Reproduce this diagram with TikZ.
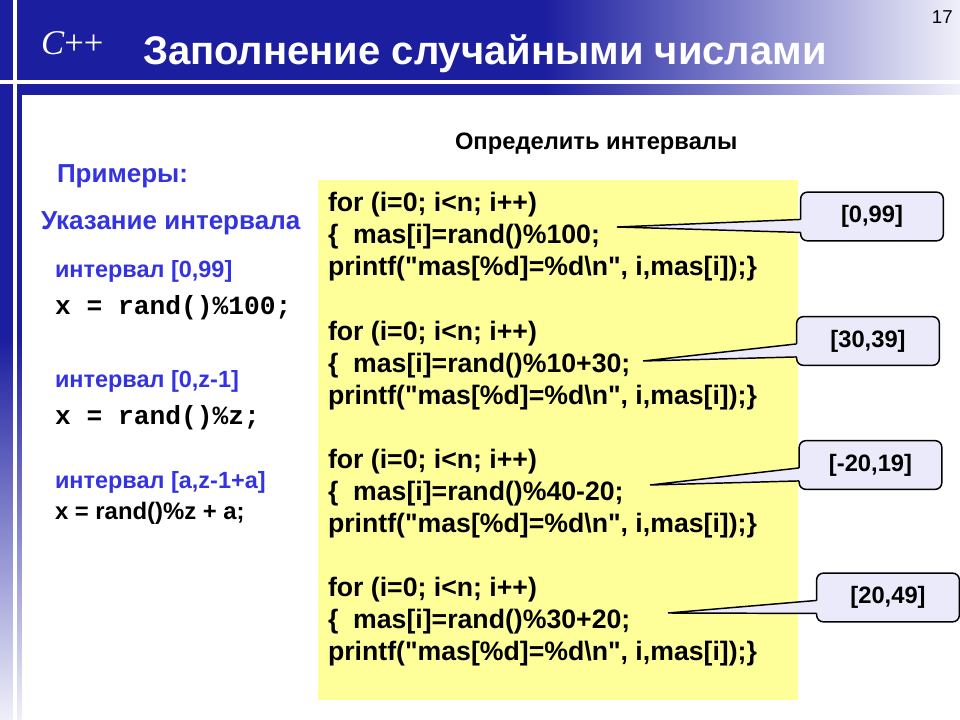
\documentclass[tikz,border=0pt]{standalone}
\usepackage{fontspec}
\setmainfont{Liberation Sans}
\newfontfamily\serifC{Liberation Serif}
\newfontfamily\monoC{Liberation Mono}
\usetikzlibrary{calc}
\font\qfontb="Liberation Sans/B" at 20pt
\newcommand\qmarkstr{{\qfontb"}}
\definecolor{hdrblue}{RGB}{28,30,160}
\definecolor{txtblue}{RGB}{51,51,225}
\definecolor{codeyel}{RGB}{255,255,153}
\definecolor{callfill}{RGB}{234,234,250}
\definecolor{fadeblue}{RGB}{240,240,250}
\begin{document}
\begin{tikzpicture}[x=0.75pt,y=-0.75pt,
  lbl/.style={anchor=base west, inner sep=0pt, outer sep=0pt},
  bluebig/.style={lbl, text=txtblue, font=\bfseries\fontsize{19.5}{22}\selectfont},
  bluesmall/.style={lbl, text=txtblue, font=\bfseries\fontsize{17.6}{20}\selectfont},
  monoline/.style={lbl, font=\monoC\bfseries\fontsize{19.7}{22}\selectfont},
  codeline/.style={lbl, font=\bfseries\fontsize{20}{24}\selectfont},
  callbox/.style={draw=black, line width=1.1pt, fill=callfill, rounded corners=5pt,
    minimum width=107pt, minimum height=36.5pt, inner sep=0pt,
    font=\bfseries\fontsize{17.8}{20}\selectfont},
  ptr/.style={draw=black, line width=1.1pt, line join=miter}]
\useasboundingbox (0,0) rectangle (960,720);
\fill[white] (0,0) rectangle (960,720);
% header band
\fill[hdrblue] (0,0) rectangle (545,95);
\shade[left color=hdrblue, right color=fadeblue] (544,0) rectangle (960,95);
% left band
\fill[hdrblue] (0,95) rectangle (22,340);
\shade[top color=hdrblue, bottom color=fadeblue] (0,339) rectangle (22,720);
% white rules
\fill[white] (0,80) rectangle (960,84);
\fill[white] (13,0) rectangle (17,720);
% content area
\fill[white] (22,95) rectangle (960,720);
% title
\node[lbl, text=white, font=\serifC\fontsize{26}{28}\selectfont] (logo) at (41,55) {\textit{C}++};
\node[lbl, text=white, font=\bfseries\fontsize{30}{36}\selectfont] (title) at (143,65) {Заполнение случайными числами};
\node[anchor=base east, inner sep=0pt, font=\fontsize{14}{16}\selectfont] (num) at (953,24) {17};
% headings
\node[lbl, font=\bfseries\fontsize{17.8}{20}\selectfont] (hint) at (455,150) {Определить интервалы};
\node[bluebig] (ex) at (57,183) {Примеры:};
\node[bluebig] (ui) at (41,230) {Указание интервала};
\node[bluesmall] (i1) at (55,277) {интервал [0,99]};
\node[monoline] (x1) at (55,315) {x = rand()\%100;};
\node[bluesmall] (i2) at (55,387) {интервал [0,z-1]};
\node[monoline] (x2) at (55,424) {x = rand()\%z;};
\node[bluesmall] (i3) at (55,488) {интервал [a,z-1+a]};
\node[lbl, font=\bfseries\fontsize{17.9}{20}\selectfont] (x3) at (55,519) {x = rand()\%z + a;};
% code box
\node[fill=codeyel, inner sep=0pt, minimum width=360pt, minimum height=390pt, anchor=north west] (code) at (318,180) {};
\node[codeline] (l1) at (328,212) {for (i=0; i<n; i++)};
\node[codeline] (l2) at (328,244) {\{~~mas[i]=rand()\%100;};
\node[codeline] (l3) at (328,276) {printf(\qmarkstr mas[\%d]=\%d\textbackslash n\qmarkstr, i,mas[i]);\}};
\node[codeline] (l5) at (328,340) {for (i=0; i<n; i++)};
\node[codeline] (l6) at (328,372) {\{~~mas[i]=rand()\%10+30;};
\node[codeline] (l7) at (328,404) {printf(\qmarkstr mas[\%d]=\%d\textbackslash n\qmarkstr, i,mas[i]);\}};
\node[codeline] (l9) at (328,468) {for (i=0; i<n; i++)};
\node[codeline] (l10) at (328,500) {\{~~mas[i]=rand()\%40-20;};
\node[codeline] (l11) at (328,532) {printf(\qmarkstr mas[\%d]=\%d\textbackslash n\qmarkstr, i,mas[i]);\}};
\node[codeline] (l13) at (328,596) {for (i=0; i<n; i++)};
\node[codeline] (l14) at (328,628) {\{~~mas[i]=rand()\%30+20;};
\node[codeline] (l15) at (328,660) {printf(\qmarkstr mas[\%d]=\%d\textbackslash n\qmarkstr, i,mas[i]);\}};
% callouts
\node[callbox] (c1) at (872,216.5) {[0,99]};
\node[callbox] (c2) at (868,341) {[30,39]};
\node[callbox] (c3) at (870.5,465) {[-20,19]};
\node[callbox] (c4) at (888,597.5) {[20,49]};
\coordinate (t1) at (617,227);
\coordinate (t2) at (643,361);
\coordinate (t3) at (650,485);
\coordinate (t4) at (668,613);
\foreach \c/\t in {c1/t1,c2/t2,c3/t3,c4/t4}{
  \fill[callfill] ($(\c.north west)+(3,28)$) -- (\t) -- ($(\c.north west)+(3,41)$) -- cycle;
  \draw[ptr] ($(\c.north west)+(0.7,28)$) -- (\t) -- ($(\c.north west)+(0.7,41)$);
}
\end{tikzpicture}
\end{document}
